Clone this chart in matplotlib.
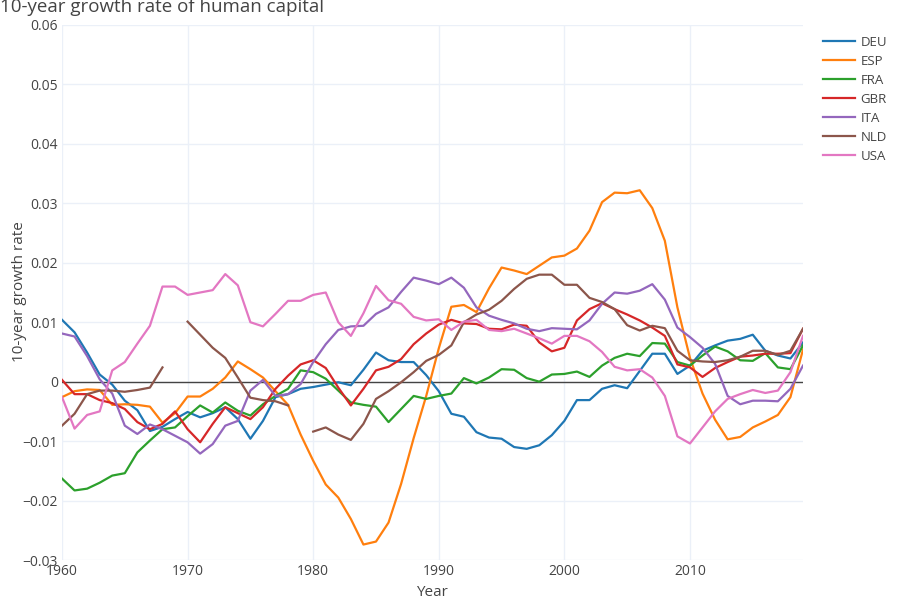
import numpy as np
import matplotlib
matplotlib.use("Agg")
import matplotlib.pyplot as plt

plt.rcParams['font.family'] = ['Open Sans', 'DejaVu Sans']

years = list(range(1960, 2020))
nan = float('nan')

DEU = [0.0104, 0.0083, 0.0049, 0.0012, -0.0005, -0.0032, -0.0048, -0.0083, -0.0076, -0.0063,
       -0.0051, -0.0060, -0.0053, -0.0043, -0.0063, -0.0096, -0.0066, -0.0026, -0.0021, -0.0012,
       -0.0009, -0.0005, -0.0001, -0.0006, 0.0020, 0.0049, 0.0036, 0.0033, 0.0033, 0.0011,
       -0.0016, -0.0054, -0.0059, -0.0085, -0.0094, -0.0096, -0.0110, -0.0113, -0.0107, -0.0090,
       -0.0066, -0.0031, -0.0031, -0.0012, -0.0006, -0.0011, 0.0018, 0.0047, 0.0047, 0.0013,
       0.0027, 0.0052, 0.0061, 0.0069, 0.0072, 0.0079, 0.0052, 0.0044, 0.0039, 0.0066]

ESP = [-0.0026, -0.0016, -0.0013, -0.0014, -0.0039, -0.0038, -0.0039, -0.0042, -0.0069, -0.0053,
       -0.0025, -0.0025, -0.0012, 0.0007, 0.0034, 0.0021, 0.0007, -0.0016, -0.0039, -0.0089,
       -0.0133, -0.0173, -0.0195, -0.0231, -0.0274, -0.0269, -0.0237, -0.0172, -0.0095, -0.0024,
       0.0056, 0.0126, 0.0129, 0.0117, 0.0157, 0.0192, 0.0187, 0.0181, 0.0195, 0.0209,
       0.0212, 0.0224, 0.0254, 0.0302, 0.0318, 0.0317, 0.0322, 0.0292, 0.0237, 0.0125,
       0.0040, -0.0020, -0.0064, -0.0097, -0.0093, -0.0077, -0.0067, -0.0056, -0.0026, 0.0054]

FRA = [-0.0163, -0.0183, -0.0180, -0.0170, -0.0158, -0.0154, -0.0119, -0.0099, -0.0080, -0.0077,
       -0.0058, -0.0040, -0.0052, -0.0035, -0.0049, -0.0057, -0.0038, -0.0024, -0.0012, 0.0019,
       0.0016, 0.0005, -0.0015, -0.0035, -0.0039, -0.0042, -0.0068, -0.0046, -0.0024, -0.0029,
       -0.0024, -0.0020, 0.0006, -0.0003, 0.0007, 0.0021, 0.0020, 0.0006, 0.0000, 0.0012,
       0.0013, 0.0017, 0.0008, 0.0027, 0.0040, 0.0047, 0.0043, 0.0065, 0.0064, 0.0033,
       0.0027, 0.0044, 0.0059, 0.0051, 0.0036, 0.0035, 0.0048, 0.0024, 0.0021, 0.0061]

GBR = [0.0003, -0.0021, -0.0021, -0.0031, -0.0036, -0.0046, -0.0068, -0.0080, -0.0071, -0.0050,
       -0.0080, -0.0102, -0.0071, -0.0043, -0.0053, -0.0063, -0.0043, -0.0012, 0.0010, 0.0029,
       0.0036, 0.0023, -0.0010, -0.0040, -0.0012, 0.0019, 0.0025, 0.0038, 0.0063, 0.0081,
       0.0096, 0.0104, 0.0098, 0.0097, 0.0089, 0.0088, 0.0096, 0.0094, 0.0066, 0.0051,
       0.0057, 0.0103, 0.0122, 0.0132, 0.0122, 0.0113, 0.0103, 0.0091, 0.0077, 0.0029,
       0.0024, 0.0008, 0.0023, 0.0033, 0.0042, 0.0044, 0.0047, 0.0047, 0.0048, 0.0089]

ITA = [0.0081, 0.0076, 0.0043, 0.0004, -0.0020, -0.0074, -0.0088, -0.0072, -0.0080, -0.0091,
       -0.0102, -0.0121, -0.0105, -0.0074, -0.0066, -0.0015, 0.0003, -0.0024, -0.0021, -0.0004,
       0.0033, 0.0063, 0.0087, 0.0093, 0.0094, 0.0114, 0.0125, 0.0151, 0.0175, 0.0170,
       0.0164, 0.0175, 0.0158, 0.0125, 0.0111, 0.0104, 0.0098, 0.0089, 0.0085, 0.0090,
       0.0089, 0.0088, 0.0103, 0.0131, 0.0150, 0.0148, 0.0153, 0.0164, 0.0138, 0.0091,
       0.0075, 0.0057, 0.0030, -0.0024, -0.0038, -0.0032, -0.0032, -0.0033, -0.0012, 0.0027]

NLD = [-0.0074, -0.0054, -0.0021, -0.0015, -0.0015, -0.0017, -0.0014, -0.0010, 0.0024, nan,
       0.0101, 0.0079, 0.0057, 0.0040, 0.0007, -0.0027, -0.0031, -0.0033, -0.0040, nan,
       -0.0084, -0.0077, -0.0089, -0.0098, -0.0071, -0.0029, -0.0016, -0.0001, 0.0016, 0.0035,
       0.0045, 0.0061, 0.0100, 0.0113, 0.0121, 0.0136, 0.0156, 0.0173, 0.0180, 0.0180,
       0.0163, 0.0163, 0.0141, 0.0134, 0.0122, 0.0095, 0.0086, 0.0094, 0.0090, 0.0052,
       0.0036, 0.0034, 0.0033, 0.0036, 0.0042, 0.0052, 0.0052, 0.0045, 0.0052, 0.0089]

USA = [-0.0026, -0.0079, -0.0056, -0.0050, 0.0019, 0.0033, 0.0064, 0.0094, 0.0160, 0.0160,
       0.0146, 0.0150, 0.0154, 0.0181, 0.0162, 0.0100, 0.0093, 0.0114, 0.0136, 0.0136,
       0.0146, 0.0150, 0.0100, 0.0077, 0.0115, 0.0161, 0.0137, 0.0131, 0.0109, 0.0103,
       0.0105, 0.0087, 0.0101, 0.0104, 0.0087, 0.0085, 0.0089, 0.0081, 0.0073, 0.0064,
       0.0077, 0.0077, 0.0068, 0.0050, 0.0025, 0.0019, 0.0021, 0.0007, -0.0024, -0.0092,
       -0.0104, -0.0077, -0.0050, -0.0029, -0.0021, -0.0014, -0.0019, -0.0015, 0.0016, 0.0077]

countries = ['DEU', 'ESP', 'FRA', 'GBR', 'ITA', 'NLD', 'USA']
series = [DEU, ESP, FRA, GBR, ITA, NLD, USA]
colors = ['#1f77b4', '#ff7f0e', '#2ca02c', '#d62728', '#9467bd', '#8c564b', '#e377c2']

yticks = [-0.03, -0.02, -0.01, 0, 0.01, 0.02, 0.03, 0.04, 0.05, 0.06]
ytick_labels = ['\u22120.03', '\u22120.02', '\u22120.01', '0', '0.01', '0.02', '0.03', '0.04', '0.05', '0.06']
xticks = [1960, 1970, 1980, 1990, 2000, 2010]

fig = plt.figure(figsize=(9, 6), dpi=100)
ax = fig.add_axes([62/900, 40/600, (803-62)/900, (560-25)/600])

for name, vals, c in zip(countries, series, colors):
    ax.plot(years, vals, color=c, lw=1.6, label=name, solid_joinstyle='round')

ax.axhline(0, color='#444444', lw=1.0, zorder=1)
ax.set_xlim(1960, 2019)
ax.set_ylim(-0.03, 0.06)
ax.set_yticks(yticks)
ax.set_yticklabels(ytick_labels)
ax.set_xticks(xticks)
ax.grid(True, color='#ebf0f8', lw=1.0, zorder=0)
ax.set_axisbelow(True)
for s in ax.spines.values():
    s.set_visible(False)
ax.tick_params(length=0, labelsize=10, colors='#444444', pad=3)

fig.text(432/900, 1 - 592/600, 'Year', fontsize=11, color='#444444', ha='center', va='center')
fig.text(20/900, 1 - 292/600, '10-year growth rate', fontsize=11, color='#444444',
         ha='center', va='center', rotation=90)

fig.text(0.0, 0.988, '10-year growth rate of human capital', fontsize=13.5,
         color='#444444', ha='left', va='center')

leg = ax.legend(loc='upper left', bbox_to_anchor=(811/900, 1 - 24/600),
                bbox_transform=fig.transFigure, frameon=False, fontsize=9.5,
                handlelength=2.4, labelspacing=0.45, handletextpad=0.45)
for t in leg.get_texts():
    t.set_color('#444444')

fig.savefig('out.png', dpi=100)
